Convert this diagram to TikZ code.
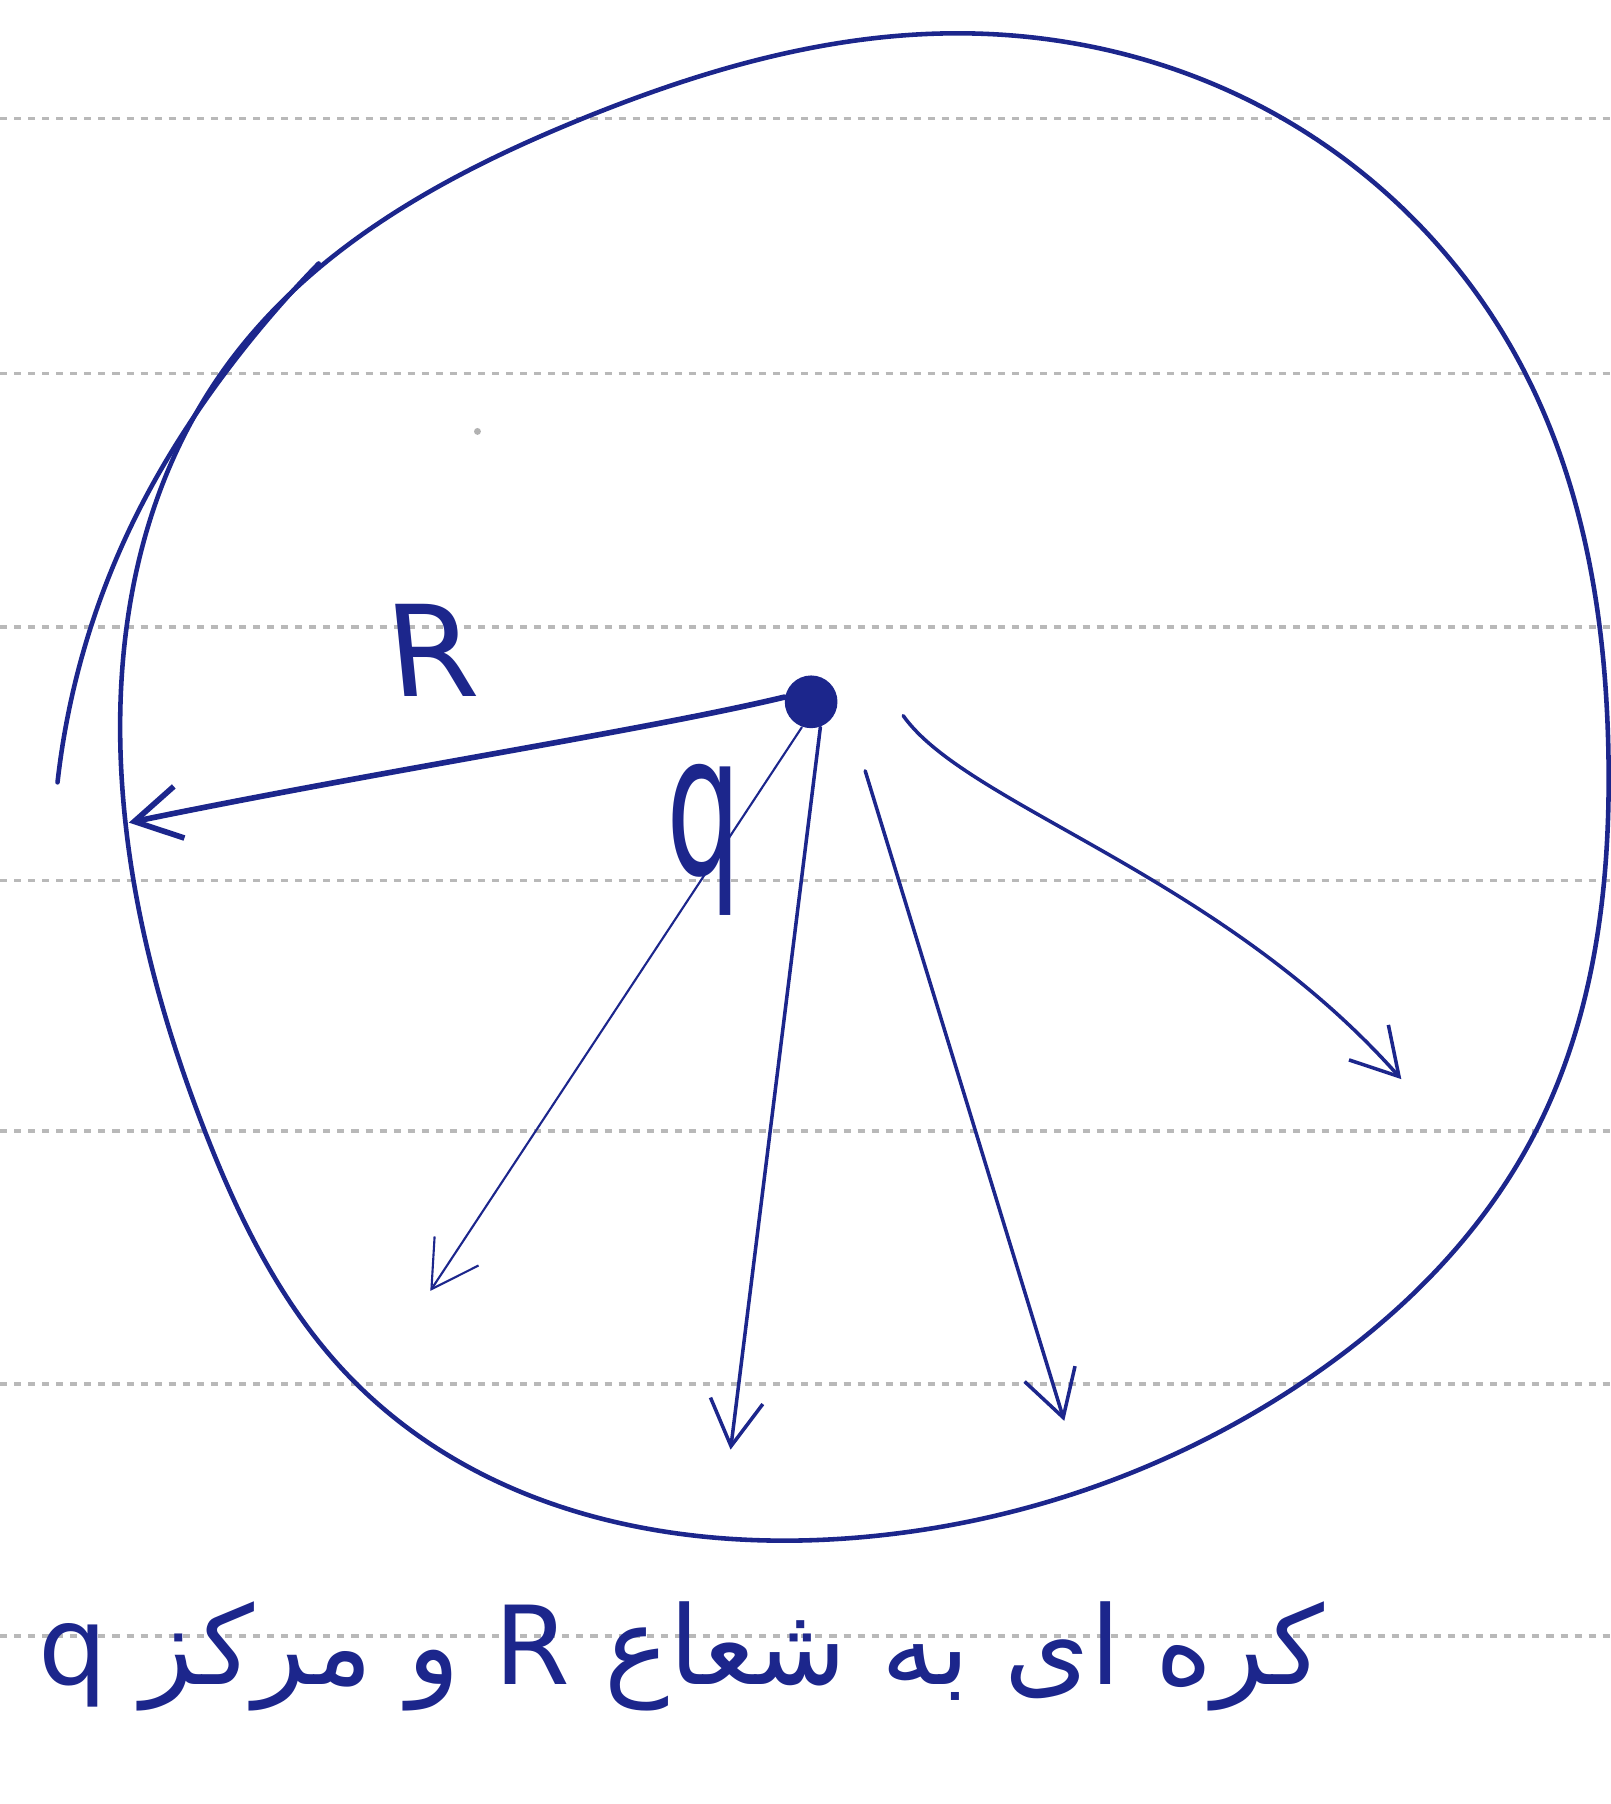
\documentclass[tikz,border=0pt]{standalone}
\usepackage{fontspec}
\usetikzlibrary{arrows.meta,hobby}
\TeXXeTstate=1
\newfontfamily\arabicfont[Script=Arabic]{DejaVu Sans}
\newfontfamily\handfont{DejaVu Sans}
\definecolor{ink}{RGB}{28,38,140}
\begin{document}
\begin{tikzpicture}[x=0.011507cm,y=-0.011507cm,
  rule/.style={gray!55, line width=0.9pt, dash pattern=on 2pt off 2pt},
  stroke/.style={ink, line width=1.3pt, line cap=round, line join=round},
  ray/.style={ink, line width=1pt, line cap=round, -{Straight Barb[length=13pt,width=15pt]}},
]
\useasboundingbox[fill=white] (0,0) rectangle (1400,1568);
\foreach \y in {103,325,545,765,983,1203,1422} \draw[rule] (0,\y) -- (1400,\y);

% sphere outline
\draw[stroke] plot[closed hobby] coordinates {
 (825,29) (1115,103) (1326,325) (1398,655) (1335,983) (1130,1203)
 (750,1336) (310,1203) (178,983) (106,680) (192,325) (504,104)};
% extra stroke on the left
\draw[stroke] plot[hobby] coordinates {(277,229) (195,325) (115,455) (50,680)};
% stray speck
\fill[gray!60] (415,375) circle[radius=3];

% charge
\node[circle, fill=ink, inner sep=0pt, minimum size=15pt] (q0) at (705,610) {};
\coordinate (e1) at (112,715);
\coordinate (e2) at (374,1122);
\coordinate (e3) at (635,1260);
\coordinate (s4) at (752,670);
\coordinate (e4) at (925,1235);
\coordinate (s5) at (785,622);
\coordinate (e5) at (1218,938);

\draw[ray, line width=1.6pt] (q0.170) .. controls (560,635) and (330,670) .. (e1);
\draw[ray, line width=0.6pt] (q0.250) -- (e2);
\draw[ray] (q0.290) -- (e3);
\draw[ray] (s4) -- (e4);
\draw[ray] (s5) .. controls (840,700) and (1060,760) .. (e5);

% labels
\node[ink, font=\handfont\fontsize{36}{40}\selectfont, xslant=-0.1] (lR) at (375,565) {R};
\node[ink, font=\handfont\fontsize{56}{60}\selectfont, xscale=0.6] (lq) at (612,730) {q};
\node[ink, font=\arabicfont\fontsize{31}{38}\selectfont] (cap) at (592,1440) {\beginR کره ای به شعاع R و مرکز q\endR};
\end{tikzpicture}
\end{document}
